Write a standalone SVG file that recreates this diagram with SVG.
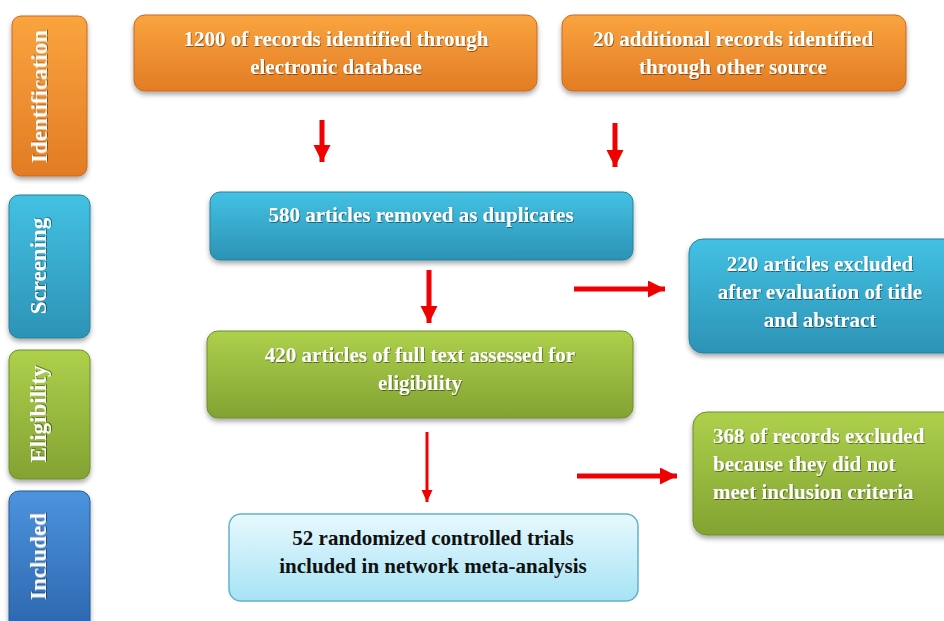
<svg xmlns="http://www.w3.org/2000/svg" width="944" height="621" viewBox="0 0 944 621">
<defs>
<linearGradient id="gOr" x1="0" y1="0" x2="0" y2="1"><stop offset="0" stop-color="#FAA43F"/><stop offset="1" stop-color="#E27C24"/></linearGradient>
<linearGradient id="gBl" x1="0" y1="0" x2="0" y2="1"><stop offset="0" stop-color="#43C1E3"/><stop offset="1" stop-color="#2C93B6"/></linearGradient>
<linearGradient id="gGr" x1="0" y1="0" x2="0" y2="1"><stop offset="0" stop-color="#ADD04C"/><stop offset="1" stop-color="#82A332"/></linearGradient>
<linearGradient id="gDb" x1="0" y1="0" x2="0" y2="1"><stop offset="0" stop-color="#4D93DE"/><stop offset="1" stop-color="#2C66AE"/></linearGradient>
<linearGradient id="gLb" x1="0" y1="0" x2="0" y2="1"><stop offset="0" stop-color="#E8F8FD"/><stop offset="1" stop-color="#A6E3F5"/></linearGradient>
<filter id="sh" x="-10%" y="-10%" width="120%" height="130%"><feDropShadow dx="0" dy="3" stdDeviation="2.5" flood-color="#000" flood-opacity="0.35"/></filter>
<filter id="ts" x="-5%" y="-20%" width="110%" height="140%"><feDropShadow dx="0.8" dy="1" stdDeviation="0.7" flood-color="#000" flood-opacity="0.45"/></filter>
<marker id="ah" markerUnits="userSpaceOnUse" markerWidth="18" markerHeight="18" refX="17" refY="8.5" orient="auto"><path d="M0,0 L17,8.5 L0,17 Z" fill="#F00000"/></marker>
<marker id="ahs" markerUnits="userSpaceOnUse" markerWidth="13" markerHeight="12" refX="12" refY="5.5" orient="auto"><path d="M0,0 L12,5.5 L0,11 Z" fill="#F00000"/></marker>
<style>
.t{font-family:"Liberation Serif","Times New Roman",serif;font-weight:bold;font-size:21px;fill:#fff;text-anchor:middle}
.side{font-family:"Liberation Serif","Times New Roman",serif;font-weight:bold;font-size:23px;fill:#fff;text-anchor:middle}
.dk{fill:#111}
.or{fill:url(#gOr);stroke:#C96B1F;stroke-width:1}
.bl{fill:url(#gBl);stroke:#25819F;stroke-width:1}
.gr{fill:url(#gGr);stroke:#708E2A;stroke-width:1}
.db{fill:url(#gDb);stroke:#24589A;stroke-width:1}
.lb{fill:url(#gLb);stroke:#62B3C9;stroke-width:1.5}
.ar{stroke:#F00000;stroke-width:5;fill:none;marker-end:url(#ah)}
.ars{stroke:#F00000;stroke-width:3;fill:none;marker-end:url(#ahs)}
</style>
</defs>
<rect width="944" height="621" fill="#fff"/>

<g id="side-identification">
<rect class="or" x="12" y="16" width="75" height="160" rx="9" filter="url(#sh)"/>
<text class="side" transform="translate(47,96.5) rotate(-90)" filter="url(#ts)">Identification</text>
</g>
<g id="side-screening">
<rect class="bl" x="9" y="195" width="81" height="143" rx="10" filter="url(#sh)"/>
<text class="side" transform="translate(46,266) rotate(-90)" filter="url(#ts)">Screening</text>
</g>
<g id="side-eligibility">
<rect class="gr" x="9" y="350" width="81" height="129" rx="10" filter="url(#sh)"/>
<text class="side" transform="translate(46,414) rotate(-90)" filter="url(#ts)">Eligibility</text>
</g>
<g id="side-included">
<rect class="db" x="9" y="491" width="81" height="140" rx="10" filter="url(#sh)"/>
<text class="side" transform="translate(46,556.5) rotate(-90)" filter="url(#ts)">Included</text>
</g>

<g id="n-database">
<rect class="or" x="134" y="15" width="403" height="76" rx="11" filter="url(#sh)"/>
<text class="t" x="336" y="46" filter="url(#ts)">1200 of records identified through</text>
<text class="t" x="336" y="74" filter="url(#ts)">electronic database</text>
</g>
<g id="n-other">
<rect class="or" x="562" y="15" width="344" height="76" rx="11" filter="url(#sh)"/>
<text class="t" x="733" y="46" filter="url(#ts)">20 additional records identified</text>
<text class="t" x="733" y="74" filter="url(#ts)">through other source</text>
</g>
<g id="n-duplicates">
<rect class="bl" x="210" y="192" width="423" height="68" rx="10" filter="url(#sh)"/>
<text class="t" x="421" y="222" filter="url(#ts)">580 articles removed as duplicates</text>
</g>
<g id="n-excluded-title">
<rect class="bl" x="689" y="239" width="275" height="114" rx="14" filter="url(#sh)"/>
<text class="t" x="820" y="271" filter="url(#ts)">220 articles excluded</text>
<text class="t" x="820" y="299" filter="url(#ts)">after evaluation of title</text>
<text class="t" x="820" y="327" filter="url(#ts)">and abstract</text>
</g>
<g id="n-fulltext">
<rect class="gr" x="207" y="331" width="426" height="87" rx="11" filter="url(#sh)"/>
<text class="t" x="420" y="362" filter="url(#ts)">420 articles of full text assessed for</text>
<text class="t" x="420" y="390" filter="url(#ts)">eligibility</text>
</g>
<g id="n-excluded-criteria">
<rect class="gr" x="693" y="412" width="271" height="123" rx="14" filter="url(#sh)"/>
<text class="t" x="713" y="443" style="text-anchor:start" filter="url(#ts)">368 of records excluded</text>
<text class="t" x="713" y="471" style="text-anchor:start" filter="url(#ts)">because they did not</text>
<text class="t" x="713" y="499" style="text-anchor:start" filter="url(#ts)">meet inclusion criteria</text>
</g>
<g id="n-included">
<rect class="lb" x="229" y="514" width="409" height="87" rx="12"/>
<text class="t dk" x="433" y="545">52 randomized controlled trials</text>
<text class="t dk" x="433" y="573">included in network meta-analysis</text>
</g>

<g id="connectors">
<line class="ar" x1="322" y1="120" x2="322" y2="162"/>
<line class="ar" x1="615" y1="123" x2="615" y2="167"/>
<line class="ar" x1="429" y1="270" x2="429" y2="323"/>
<line class="ar" x1="574" y1="289" x2="665" y2="289"/>
<line class="ars" x1="427" y1="432" x2="427" y2="502"/>
<line class="ar" x1="577" y1="476" x2="677" y2="476"/>
</g>
</svg>
